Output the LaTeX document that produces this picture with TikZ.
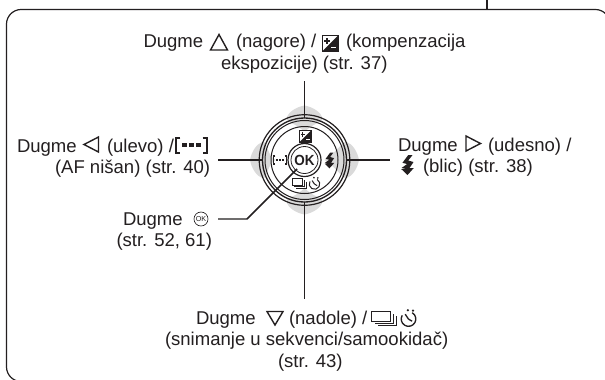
\documentclass[tikz,border=0pt]{standalone}
\usepackage{fontspec}
\setmainfont{Liberation Sans}
\definecolor{ink}{HTML}{231F20}
\definecolor{petal}{HTML}{DADADA}
\tikzset{
  x=0.75pt,y=-0.75pt,
  txt/.style={anchor=base west,inner sep=0pt,outer sep=0pt,text=ink,font=\fontsize{13.9}{15}\selectfont},
  leader/.style={draw=ink,line width=1.1pt,line join=miter},
  frameline/.style={draw=ink,line width=0.9pt},
  tri/.style={draw=ink,line width=1.05pt,line join=miter,fill=none},
  ring/.style={draw=ink,line width=0.75pt},
  pics/evicon/.style={code={
    \draw[ink,line width=0.5pt,fill=white] (-1,-1) rectangle (1,1);
    \fill[ink] (1,-1) -- (1,1) -- (-1,1) -- cycle;
    \fill[ink] (-0.75,-0.42) rectangle (-0.05,-0.24);
    \fill[ink] (-0.49,-0.72) rectangle (-0.31,0.05);
    \fill[white] (0.1,0.42) rectangle (0.8,0.6);
  }},
  pics/aficon/.style={code={
    \draw[ink,line width=#1,line cap=butt] (-0.72,-1) -- (-1,-1) -- (-1,1) -- (-0.72,1);
    \draw[ink,line width=#1,line cap=butt] (0.72,-1) -- (1,-1) -- (1,1) -- (0.72,1);
    \fill[ink] (-0.62,-0.3) rectangle (-0.26,0.3);
    \fill[ink] (-0.18,-0.3) rectangle (0.18,0.3);
    \fill[ink] (0.26,-0.3) rectangle (0.62,0.3);
  }},
  pics/flashicon/.style={code={
    \fill[ink] (0.12,-1) -- (-0.8,-0.22) -- (-0.05,-0.1) -- (-0.95,0.3) -- (-0.38,0.38)
      -- (-0.38,0.4) -- (-1,0.4) -- (0,1) -- (1,0.3) -- (0.3,0.32) -- (0.95,-0.3)
      -- (0.12,-0.45) -- (0.8,-1) -- cycle;
  }},
  pics/seqicon/.style={code={
    \draw[ink,line width=#1,fill=white] (-1,-1) rectangle (0.55,0.45);
    \draw[ink,line width=#1] (0.75,-0.6) -- (0.75,0.7) -- (-0.75,0.7);
    \draw[ink,line width=#1] (1,-0.3) -- (1,1) -- (-0.5,1);
  }},
  pics/timericon/.style={code={
    \draw[ink,line width=#1] (-60:1) arc[start angle=-60,end angle=210,radius=1];
    \draw[ink,line width=#1] (0,0.02) -- (-0.45,-0.65);
    \draw[ink,line width=#1] (0,0.02) -- (0.5,0.3);
    \fill[ink] (-0.1,-1.2) circle (0.17);
    \fill[ink] (0.62,-1.15) circle (0.17);
  }},
  pics/petalshape/.style={code={
    \fill[petal] (#1,0) .. controls (#1+8,-4) and (37,-17) .. (41,-18)
      .. controls (48,-17) and (53,-8) .. (54.5,0)
      .. controls (53,8) and (48,17) .. (41,18)
      .. controls (37,17) and (#1+8,4) .. (#1,0) -- cycle;
  }}
}
\begin{document}
\begin{tikzpicture}
\clip (0,0) rectangle (605,379);
\fill[white] (0,0) rectangle (605,379);
% frame
\coordinate (stemtop) at (487,0);
\coordinate (stembot) at (487,9.5);
\draw[frameline,rounded corners=11] (40,381.5) -- (6.5,381.5) -- (6.5,9.5) -- (610,9.5) -- (610,390);
\draw[frameline] (stemtop) -- (stembot);
% dial
\coordinate (dial) at (304.5,160);
\pic at (dial) [rotate=-90] {petalshape=27};
\pic at (dial) [rotate=90] {petalshape=27};
\pic at (dial) [rotate=180] {petalshape=29};
\pic at (dial) {petalshape=20};
\draw[ring,line width=0.9pt] (dial) circle (45.3);
\draw[ring,line width=1pt] (dial) circle (42);
\draw[ring] (dial) circle (39.5);
\draw[ring] (dial) circle (33.5);
\fill[white] (dial) circle (16.5);
\draw[ring,line width=0.9pt] (dial) circle (16.5);
\draw[ring,line width=0.6pt] (dial) circle (13.5);
\node[inner sep=0pt,text=ink,xscale=0.92,font=\fontsize{11}{12}\bfseries\selectfont] (oklabel) at (304.5,160) {OK};
\pic at (305,136.5) [scale=6] {evicon};
\pic at (280,160) [xscale=6.5,yscale=4] {aficon=0.8pt};
\pic at (329.5,160.5) [xscale=4.8,yscale=7.8] {flashicon};
\pic at (299,183) [xscale=7,yscale=5] {seqicon=0.6pt};
\pic at (314.5,184) [scale=5.3] {timericon=0.75pt};
% leader ends
\coordinate (topa) at (304.5,81);
\coordinate (topb) at (304.5,118);
\coordinate (lefta) at (218,160);
\coordinate (leftb) at (262,160);
\coordinate (righta) at (347,160);
\coordinate (rightb) at (390,160);
\coordinate (bota) at (304.5,202);
\coordinate (botb) at (304.5,299);
\coordinate (oka) at (218,219);
\coordinate (okb) at (247,219);
\coordinate (okc) at (297,169);
\draw[leader] (topa) -- (topb);
\draw[leader] (lefta) -- (leftb);
\draw[leader] (righta) -- (rightb);
\draw[leader] (bota) -- (botb);
\draw[leader] (oka) -- (okb) -- (okc);
% top text
\node[txt] (t1) at (143.5,47) {Dugme};
\draw[tri] (219,34.5) -- (210.5,50) -- (227.5,50) -- cycle;
\node[txt] (t2) at (236,47) {(nagore) /};
\pic at (330,43.5) [scale=8] {evicon};
\node[txt] (t3) at (346,47) {(kompenzacija};
\node[txt] (t4) at (221,69) {ekspozicije) (str. 37)};
% left text
\node[txt] (l1) at (17,152) {Dugme};
\draw[tri] (84,144.5) -- (98.5,137) -- (98.5,152) -- cycle;
\node[txt] (l2) at (107,152) {(ulevo) /};
\pic at (191.5,145) [xscale=15.5,yscale=7.5] {aficon=1.5pt};
\node[txt] (l3) at (55,173) {(AF nišan) (str. 40)};
% ok text
\node[txt] (k1) at (123,225) {Dugme};
\draw[ink,line width=0.5pt] (201,219) circle (7);
\node[inner sep=0pt,text=ink,font=\fontsize{5.4}{6}\selectfont] (k2) at (201,219) {OK};
\node[txt] (k3) at (116.5,246) {(str. 52, 61)};
% right text
\node[txt] (r1) at (398,151) {Dugme};
\draw[tri] (480.5,143.5) -- (466,136) -- (466,151) -- cycle;
\node[txt] (r2) at (488,151) {(udesno) /};
\pic at (407.5,165) [xscale=6.3,yscale=10] {flashicon};
\node[txt] (r3) at (423,172) {(blic) (str. 38)};
% bottom text
\node[txt] (b1) at (196,324) {Dugme};
\draw[tri] (275,325) -- (267,311.5) -- (283,311.5) -- cycle;
\node[txt] (b2) at (289,324) {(nadole) /};
\pic at (384,318.5) [xscale=12.5,yscale=7] {seqicon=0.8pt};
\pic at (408.5,319) [scale=7.3] {timericon=1pt};
\node[txt] (b3) at (165,345) {(snimanje u sekvenci/samookidač)};
\node[txt] (b4) at (278,367) {(str. 43)};
\end{tikzpicture}
\end{document}
